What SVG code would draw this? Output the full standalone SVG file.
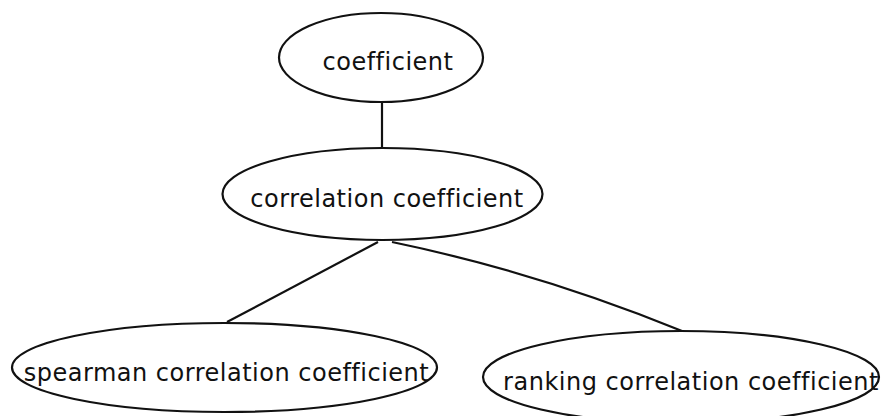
<svg xmlns="http://www.w3.org/2000/svg" width="881" height="416" viewBox="0 0 881 416">
<style>
.node ellipse{fill:#fff;stroke:#111;stroke-width:2.2}
.node text{font-family:"DejaVu Sans",sans-serif;font-size:24px;letter-spacing:0.5px;fill:#111;text-anchor:middle}
.edges path{fill:none;stroke:#111;stroke-width:2.2}
</style>
<rect width="881" height="416" fill="#fff"/>
<g class="edges">
<path d="M382,102 L382,149"/>
<path d="M378,242 L227,322"/>
<path d="M392,242 Q537,272 682,331"/>
</g>
<g id="n1" class="node"><ellipse cx="381" cy="57.5" rx="102" ry="44.5"/><text x="388" y="70">coefficient</text></g>
<g id="n2" class="node"><ellipse cx="382.5" cy="194" rx="160" ry="46"/><text x="387" y="207">correlation coefficient</text></g>
<g id="n3" class="node"><ellipse cx="224.5" cy="367.5" rx="212.5" ry="44.5"/><text x="226.5" y="381">spearman correlation coefficient</text></g>
<g id="n4" class="node"><ellipse cx="681" cy="377" rx="198" ry="46"/><text x="691" y="390">ranking correlation coefficient</text></g>
</svg>
